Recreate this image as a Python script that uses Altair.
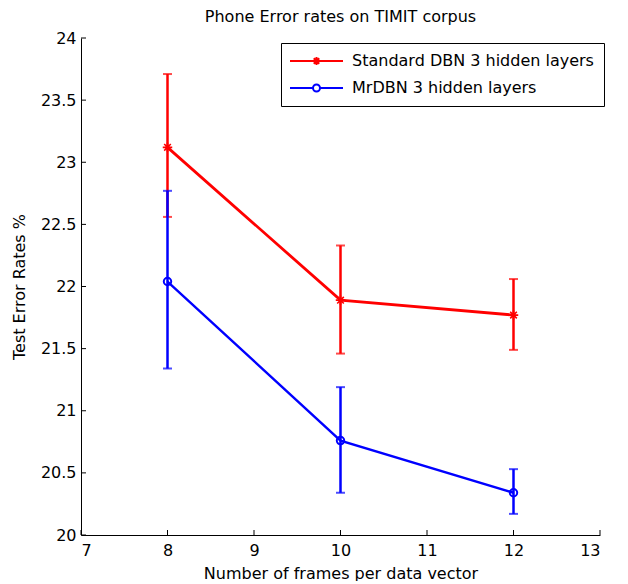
import altair as alt
import pandas as pd

# ---- data ----
frames = [8, 10, 12]
std_mean = [23.12, 21.89, 21.77]
std_low = [22.56, 21.46, 21.49]
std_high = [23.71, 22.33, 22.06]
mr_mean = [22.04, 20.76, 20.34]
mr_low = [21.34, 20.34, 20.17]
mr_high = [22.77, 21.19, 20.53]
series_names = ["Standard DBN 3 hidden layers", "MrDBN 3 hidden layers"]
series_colors = ["#ff0000", "#0000ff"]
x_ticks = [7, 8, 9, 10, 11, 12, 13]
y_ticks = [20, 20.5, 21, 21.5, 22, 22.5, 23, 23.5, 24]

W, H = 519, 497
FONT = "DejaVu Sans"

xs = alt.Scale(domain=[7, 13], nice=False, zero=False)
ys = alt.Scale(domain=[20, 24], nice=False, zero=False)

x_axis = alt.Axis(values=x_ticks, title="Number of frames per data vector", ticks=False,
                  grid=False, labelPadding=7, titleY=43, titleBaseline="alphabetic")
y_axis = alt.Axis(values=y_ticks, title="Test Error Rates %", ticks=False, grid=False,
                  format="~g", labelPadding=5, titleX=-57, titleBaseline="alphabetic")


def X(field):
    return alt.X(field, type="quantitative", scale=xs, axis=x_axis)


def Y(field):
    return alt.Y(field, type="quantitative", scale=ys, axis=y_axis)


star_path = "M-1,0L1,0M0,-1L0,1M-0.7,-0.7L0.7,0.7M-0.7,0.7L0.7,-0.7"
layers = []

# inward tick marks (MATLAB style)
layers.append(alt.Chart(pd.DataFrame({"v": y_ticks})).mark_rule(color="black", strokeWidth=1).encode(
    y=Y("v"), x=alt.value(0), x2=alt.value(5)
))
layers.append(alt.Chart(pd.DataFrame({"v": x_ticks})).mark_rule(color="black", strokeWidth=1).encode(
    x=X("v"), y=alt.value(H), y2=alt.value(H - 5)
))

series_data = [
    (std_mean, std_low, std_high, star_path, 90, 1.6, 2.8),
    (mr_mean, mr_low, mr_high, "circle", 55, 2.0, 2.4),
]
for name, color, (means, lows, highs, shape, msize, mstroke, lw) in zip(series_names, series_colors, series_data):
    sdf = pd.DataFrame({"frames": frames, "mean": means, "low": lows, "high": highs})
    b = alt.Chart(sdf)
    layers.append(b.mark_rule(strokeWidth=2.5, color=color).encode(x=X("frames"), y=Y("low"), y2="high"))
    layers.append(b.transform_fold(["low", "high"], as_=["bound", "val"]).mark_tick(
        orient="horizontal", size=9, thickness=2, color=color
    ).encode(x=X("frames"), y=Y("val")))
    layers.append(b.mark_line(strokeWidth=lw, color=color).encode(x=X("frames"), y=Y("mean")))
    layers.append(b.mark_point(shape=shape, size=msize, strokeWidth=mstroke, filled=False, color=color,
                               opacity=1).encode(x=X("frames"), y=Y("mean")))

# legend symbols: a line sample with the marker in its middle
leg_star = ("M-1.8,0L8.8,0M3.5,-0.8L3.5,0.8M2.95,-0.55L4.05,0.55M2.95,0.55L4.05,-0.55")
leg_circ = "M-1.8,0L2.8,0M4.2,0L8.8,0M2.8,0A0.7,0.7 0 1,1 4.2,0A0.7,0.7 0 1,1 2.8,0"
legend = alt.Legend(
    title=None, orient="none", legendX=200, legendY=5,
    strokeColor="black", fillColor="white", padding=10, rowPadding=11,
    labelFont=FONT, labelFontSize=16, labelColor="black", labelOffset=45, labelLimit=400,
    symbolSize=100, symbolStrokeWidth=2,
)
leg_df = pd.DataFrame({"series": series_names})
layers.append(alt.Chart(leg_df).mark_point(size=100, filled=False, strokeWidth=2, opacity=0).encode(
    color=alt.Color("series:N", scale=alt.Scale(domain=series_names, range=series_colors),
                    legend=legend, sort=series_names),
    shape=alt.Shape("series:N", scale=alt.Scale(domain=series_names, range=[leg_star, leg_circ]),
                    legend=legend, sort=series_names),
    x=alt.value(W / 2), y=alt.value(H / 2),
))

chart = alt.layer(*layers).properties(
    width=W, height=H,
    title=alt.TitleParams("Phone Error rates on TIMIT corpus", font=FONT, fontSize=16,
                          fontWeight="normal", color="black", offset=5, anchor="middle"),
    padding={"left": 3, "top": 1, "right": 5, "bottom": 0},
    background="white",
).configure_view(stroke=None).configure_axis(
    domainColor="black", domainWidth=1, labelColor="black", labelFont=FONT, labelFontSize=16,
    titleColor="black", titleFont=FONT, titleFontSize=16, titleFontWeight="normal",
)

chart.save("out.html", embed_options={"renderer": "svg", "actions": False})
